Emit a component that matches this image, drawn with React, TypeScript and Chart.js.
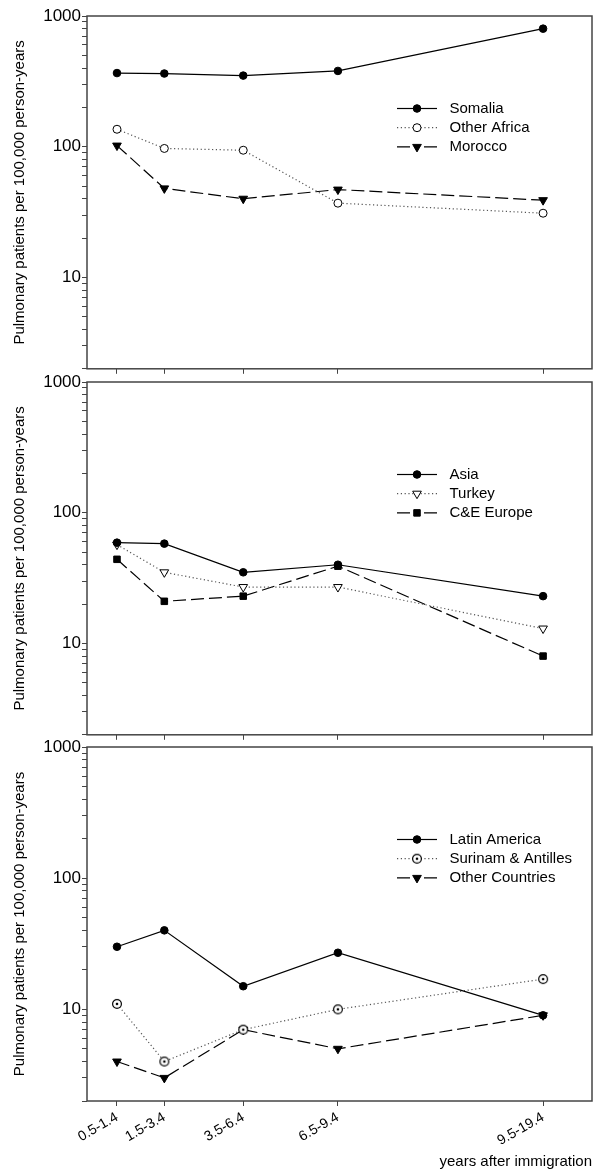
import React, { useEffect, useRef } from 'react';
import { Chart, registerables } from 'chart.js';
import { drawPoint } from 'chart.js/helpers';

Chart.register(...registerables);

// ---------- data ----------
const periodLabels = ['0.5-1.4', '1.5-3.4', '3.5-6.4', '6.5-9.4', '9.5-19.4'];
const periodMidpoints = [0.95, 2.45, 4.95, 7.95, 14.45];

const somalia = [366, 363, 350, 380, 800];
const otherAfrica = [136, 97, 94, 37, 31];
const morocco = [102, 48, 40, 47, 39];

const asia = [59, 58, 35, 40, 23];
const turkey = [57, 35, 27, 27, 13];
const ceEurope = [44, 21, 23, 39, 8];

const latinAmerica = [30, 40, 15, 27, 9];
const surinamAntilles = [11, 4, 7, 10, 17];
const otherCountries = [4, 3, 7, 5, 9];

const yTickValues = [2, 3, 4, 5, 6, 7, 8, 9, 10, 20, 30, 40, 50, 60, 70, 80, 90, 100, 200, 300, 400, 500, 600, 700, 800, 900, 1000];
const yLabelledTicks = [10, 100, 1000];

const yTitle = 'Pulmonary patients per 100,000 person-years';
const xTitle = 'years after immigration';

type LineKind = 'solid' | 'dotted' | 'dashed';
type MarkerKind = 'dot' | 'ring' | 'triDown' | 'triDownOpen' | 'square' | 'ringDot';
type Series = { label: string; values: number[]; line: LineKind; marker: MarkerKind };

const panel1: Series[] = [
  { label: 'Somalia', values: somalia, line: 'solid', marker: 'dot' },
  { label: 'Other Africa', values: otherAfrica, line: 'dotted', marker: 'ring' },
  { label: 'Morocco', values: morocco, line: 'dashed', marker: 'triDown' },
];
const panel2: Series[] = [
  { label: 'Asia', values: asia, line: 'solid', marker: 'dot' },
  { label: 'Turkey', values: turkey, line: 'dotted', marker: 'triDownOpen' },
  { label: 'C&E Europe', values: ceEurope, line: 'dashed', marker: 'square' },
];
const panel3: Series[] = [
  { label: 'Latin America', values: latinAmerica, line: 'solid', marker: 'dot' },
  { label: 'Surinam & Antilles', values: surinamAntilles, line: 'dotted', marker: 'ringDot' },
  { label: 'Other Countries', values: otherCountries, line: 'dashed', marker: 'triDown' },
];

const FONT = '"Liberation Sans", Arial, Helvetica, sans-serif';
const AXIS_COLOR = '#444';

function makeRingDot(): HTMLCanvasElement {
  const c = document.createElement('canvas');
  c.width = 12;
  c.height = 12;
  const g = c.getContext('2d')!;
  g.beginPath();
  g.arc(6, 6, 4.4, 0, Math.PI * 2);
  g.fillStyle = '#fff';
  g.fill();
  g.lineWidth = 1.2;
  g.strokeStyle = '#000';
  g.stroke();
  g.beginPath();
  g.arc(6, 6, 1.3, 0, Math.PI * 2);
  g.fillStyle = '#000';
  g.fill();
  return c;
}

function lineStyle(kind: LineKind) {
  if (kind === 'dotted') return { borderColor: '#555', borderDash: [1.2, 2.6], borderWidth: 1.2 };
  if (kind === 'dashed') return { borderColor: '#000', borderDash: [13, 5], borderWidth: 1.2 };
  return { borderColor: '#000', borderDash: [] as number[], borderWidth: 1.2 };
}

function markerStyle(kind: MarkerKind, ringDot: HTMLCanvasElement) {
  switch (kind) {
    case 'dot':
      return { pointStyle: 'circle', pointRadius: 3.8, pointBackgroundColor: '#000', pointRotation: 0 };
    case 'ring':
      return { pointStyle: 'circle', pointRadius: 4, pointBackgroundColor: '#fff', pointRotation: 0 };
    case 'triDown':
      return { pointStyle: 'triangle', pointRadius: 5, pointBackgroundColor: '#000', pointRotation: 180 };
    case 'triDownOpen':
      return { pointStyle: 'triangle', pointRadius: 5, pointBackgroundColor: '#fff', pointRotation: 180 };
    case 'square':
      return { pointStyle: 'rect', pointRadius: 4.6, pointBackgroundColor: '#000', pointRotation: 0 };
    case 'ringDot':
      return { pointStyle: ringDot as any, pointRadius: 5, pointBackgroundColor: '#fff', pointRotation: 0 };
  }
}

const framePlugin = {
  id: 'frame',
  afterDraw(chart: any) {
    const { ctx, chartArea } = chart;
    const { left, top, right, bottom } = chartArea;
    ctx.save();
    ctx.strokeStyle = AXIS_COLOR;
    ctx.lineWidth = 1.5;
    ctx.strokeRect(left, top, right - left, bottom - top);
    ctx.restore();
  },
};

const insideLegendPlugin = {
  id: 'insideLegend',
  afterDraw(chart: any) {
    const { ctx, chartArea } = chart;
    ctx.save();
    chart.data.datasets.forEach((ds: any, i: number) => {
      const y = chartArea.top + 92.5 + i * 19.2;
      const x0 = chartArea.left + 310;
      const x1 = chartArea.left + 350;
      const xm = (x0 + x1) / 2;
      ctx.setLineDash(ds.borderDash || []);
      ctx.strokeStyle = ds.borderColor;
      ctx.lineWidth = ds.borderWidth;
      // left half from the outer edge in, right half from the outer edge in
      ctx.beginPath();
      ctx.moveTo(x0, y);
      ctx.lineTo(xm, y);
      ctx.stroke();
      ctx.beginPath();
      ctx.moveTo(x1, y);
      ctx.lineTo(xm, y);
      ctx.stroke();
      ctx.setLineDash([]);
      ctx.fillStyle = ds.pointBackgroundColor;
      ctx.strokeStyle = ds.pointBorderColor;
      ctx.lineWidth = ds.pointBorderWidth;
      drawPoint(
        ctx,
        {
          pointStyle: ds.pointStyle,
          rotation: ds.pointRotation || 0,
          radius: ds.pointRadius,
          borderWidth: ds.pointBorderWidth,
        } as any,
        xm,
        y
      );
      ctx.fillStyle = '#000';
      ctx.font = `15px ${FONT}`;
      ctx.textAlign = 'left';
      ctx.textBaseline = 'middle';
      ctx.fillText(ds.label, chartArea.left + 362.5, y);
    });
    ctx.restore();
  },
};

function Panel({ top, height, series, showX }: { top: number; height: number; series: Series[]; showX: boolean }) {
  const ref = useRef<HTMLCanvasElement>(null);

  useEffect(() => {
    const canvas = ref.current!;
    const ringDot = makeRingDot();
    const datasets = series.map((s) => ({
      label: s.label,
      data: periodMidpoints.map((x, i) => ({ x, y: s.values[i] })),
      ...lineStyle(s.line),
      ...markerStyle(s.marker, ringDot),
      pointBorderColor: '#000',
      pointBorderWidth: 1,
      fill: false,
      tension: 0,
    }));

    const chart = new Chart(canvas, {
      type: 'line',
      data: { datasets: datasets as any },
      options: {
        animation: false,
        responsive: false,
        devicePixelRatio: 1,
        events: [],
        layout: { padding: { top: 16, right: 8, bottom: showX ? 0 : 5, left: 0 } },
        plugins: {
          legend: { display: false },
          tooltip: { enabled: false },
          title: { display: false },
        },
        scales: {
          x: {
            type: 'linear',
            min: 0,
            max: 16,
            afterBuildTicks: (s: any) => {
              s.ticks = periodMidpoints.map((v) => ({ value: v }));
            },
            afterFit: (s: any) => {
              s.height = showX ? 75 : 5;
            },
            grid: { drawOnChartArea: false, drawTicks: true, tickLength: 5, color: AXIS_COLOR, lineWidth: 1 },
            border: { display: false },
            ticks: {
              display: showX,
              autoSkip: false,
              minRotation: 30,
              maxRotation: 30,
              padding: 3,
              color: '#000',
              font: { family: FONT, size: 14 },
              callback: (_v: any, i: number) => periodLabels[i],
            },
            title: {
              display: showX,
              text: xTitle,
              align: 'end',
              color: '#000',
              font: { family: FONT, size: 15 },
              padding: { top: 0, bottom: 5.5 },
            },
          },
          y: {
            type: 'logarithmic',
            min: 2,
            max: 1000,
            afterBuildTicks: (s: any) => {
              s.ticks = yTickValues.map((v) => ({ value: v }));
            },
            afterFit: (s: any) => {
              s.width = 87;
            },
            grid: { drawOnChartArea: false, drawTicks: true, tickLength: 5, color: AXIS_COLOR, lineWidth: 1 },
            border: { display: false },
            ticks: {
              autoSkip: false,
              padding: 1,
              color: '#000',
              font: { family: FONT, size: 17 },
              callback: (v: any) => (yLabelledTicks.includes(Number(v)) ? String(v) : ''),
            },
            title: {
              display: true,
              text: yTitle,
              color: '#000',
              font: { family: FONT, size: 15 },
              padding: { top: 11, bottom: 0 },
            },
          },
        },
      } as any,
      plugins: [framePlugin, insideLegendPlugin],
    });
    return () => chart.destroy();
  }, []);

  return (
    <canvas
      ref={ref}
      width={600}
      height={height}
      style={{ position: 'absolute', left: 0, top, width: 600, height }}
    />
  );
}

export default function App() {
  return (
    <div style={{ position: 'absolute', left: 0, top: 0, width: 600, height: 1176, background: '#fff' }}>
      <Panel top={0} height={380} series={panel1} showX={false} />
      <Panel top={366} height={380} series={panel2} showX={false} />
      <Panel top={731} height={445} series={panel3} showX={true} />
    </div>
  );
}
